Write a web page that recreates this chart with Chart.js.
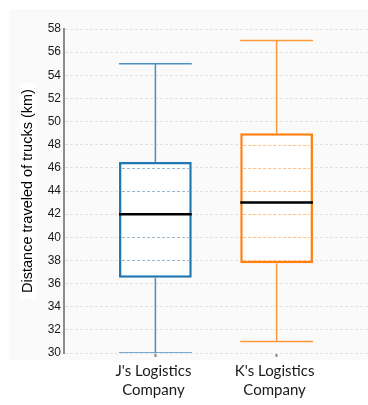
<!DOCTYPE html>
<html><head><meta charset="utf-8">
<script src="https://cdn.jsdelivr.net/npm/chart.js@4"></script>
<style>html,body{margin:0;padding:0;background:#fff}canvas{display:block}</style>
</head><body>
<canvas id="c" width="368" height="405"></canvas>
<script>
// ---- data ----
const categories = [["J's Logistics", "Company"], ["K's Logistics", "Company"]];
const mins    = [30, 31];
const q1s     = [36.5, 37.75];
const medians = [42, 43];
const q3s     = [46.5, 49];
const maxs    = [55, 57];
const yTicks  = [30, 32, 34, 36, 38, 40, 42, 44, 46, 48, 50, 52, 54, 56, 58];
const yTitle  = 'Distance traveled of trucks (km)';

// ---- style ----
const boxColors = ['#1f77b4', '#ff7f0e'];
const BOX_FRAC = 0.6, HALF = BOX_FRAC / 2, X_PAD = 0.754;
const xPos = categories.map((_, i) => i + 1);

const boxData = xPos.map((x, i) => ({x, y: [q1s[i], q3s[i]]}));
function whiskers(i) {
  const x = xPos[i];
  return [
    {x, y: q3s[i]}, {x, y: maxs[i]}, {x, y: NaN},
    {x: x - HALF, y: maxs[i]}, {x: x + HALF, y: maxs[i]}, {x, y: NaN},
    {x, y: q1s[i]}, {x, y: mins[i]}, {x, y: NaN},
    {x: x - HALF, y: mins[i]}, {x: x + HALF, y: mins[i]}
  ];
}
const medianData = [];
xPos.forEach((x, i) => {
  if (i) medianData.push({x, y: NaN});
  medianData.push({x: x - HALF, y: medians[i]}, {x: x + HALF, y: medians[i]});
});

function hexA(hex, a) {
  const n = parseInt(hex.slice(1), 16);
  return `rgba(${n >> 16},${(n >> 8) & 255},${n & 255},${a})`;
}

const decor = {
  id: 'decor',
  beforeDraw(chart) {
    const {ctx, chartArea: ca} = chart;
    ctx.save();
    ctx.fillStyle = '#fafafa';
    ctx.fillRect(9, 9, chart.width - 9, ca.bottom + 7 - 9);
    // white band behind y title
    ctx.font = '14.5px "Liberation Sans", Arial, sans-serif';
    const w = ctx.measureText(yTitle).width + 12;
    const cy = (ca.top + ca.bottom) / 2;
    ctx.fillStyle = '#ffffff';
    ctx.fillRect(20, cy - w / 2, 16, w);
    ctx.restore();
  },
  afterDatasetDraw(chart, args) {
    if (args.meta.type !== 'bar') return;
    const {ctx} = chart;
    const ys = chart.scales.y;
    ctx.save();
    ctx.lineWidth = 1;
    ctx.setLineDash([3, 2]);
    args.meta.data.forEach((el, i) => {
      const {x, y, base, width} = el.getProps(['x', 'y', 'base', 'width'], true);
      const top = Math.min(y, base), bot = Math.max(y, base);
      ctx.strokeStyle = i === 0 ? 'rgba(60,110,150,0.5)' : hexA(boxColors[i], 0.5);
      yTicks.forEach(v => {
        const p = Math.round(ys.getPixelForValue(v)) + 0.5;
        if (p > top + 1.5 && p < bot - 1.5) {
          ctx.beginPath();
          ctx.moveTo(x - width / 2 + 3, p);
          ctx.lineTo(x + width / 2 - 3, p);
          ctx.stroke();
        }
      });
    });
    ctx.restore();
  }
};

new Chart(document.getElementById('c'), {
  type: 'scatter',
  data: {
    datasets: [
      {type: 'bar', data: boxData, backgroundColor: '#ffffff', borderColor: boxColors,
       borderWidth: 2.5, borderSkipped: false, barPercentage: BOX_FRAC, categoryPercentage: 1, order: 3},
      ...xPos.map((_, i) => ({type: 'line', data: whiskers(i), borderColor: hexA(boxColors[i], 0.8),
       borderWidth: 1.5, pointRadius: 0, fill: false, spanGaps: false, tension: 0, order: 2})),
      {type: 'line', data: medianData, borderColor: '#000000', borderWidth: 2.5, pointRadius: 0,
       fill: false, spanGaps: false, tension: 0, order: 1}
    ]
  },
  options: {
    responsive: false,
    animation: false,
    devicePixelRatio: 1,
    layout: {padding: {top: 29, right: 0, bottom: 0, left: 0}},
    plugins: {legend: {display: false}, tooltip: {enabled: false}},
    scales: {
      x: {
        type: 'linear',
        offset: false,
        min: xPos[0] - X_PAD,
        max: xPos[xPos.length - 1] + X_PAD,
        afterBuildTicks: s => { s.ticks = xPos.map(v => ({value: v})); },
        afterFit: s => { s.height = 52; },
        ticks: {
          callback: v => categories[v - 1],
          autoSkip: false, maxRotation: 0, padding: 4, labelOffset: -2,
          color: '#1a1a1a',
          font: {family: 'Lato, "Open Sans", sans-serif', size: 15, lineHeight: 1.3}
        },
        grid: {display: true, offset: false, drawOnChartArea: false, drawTicks: true, tickLength: 4,
               tickColor: '#888888', tickWidth: 2},
        border: {display: false}
      },
      y: {
        type: 'linear',
        min: yTicks[0],
        max: yTicks[yTicks.length - 1],
        afterBuildTicks: s => { s.ticks = yTicks.map(v => ({value: v})); },
        afterFit: s => { s.width = 64; },
        ticks: {
          padding: 3, color: '#1a1a1a',
          font: {family: '"Liberation Sans", Arial, sans-serif', size: 12}
        },
        grid: {color: '#e2e2e2', lineWidth: 1, drawTicks: false},
        border: {display: true, color: '#8c8c8c', width: 2, dash: [3, 2]},
        title: {
          display: true, text: yTitle, color: '#000000',
          font: {family: '"Liberation Sans", Arial, sans-serif', size: 14.5, lineHeight: 1.2},
          padding: {top: 19, bottom: 0}
        }
      }
    }
  },
  plugins: [decor]
});
</script>
</body></html>
